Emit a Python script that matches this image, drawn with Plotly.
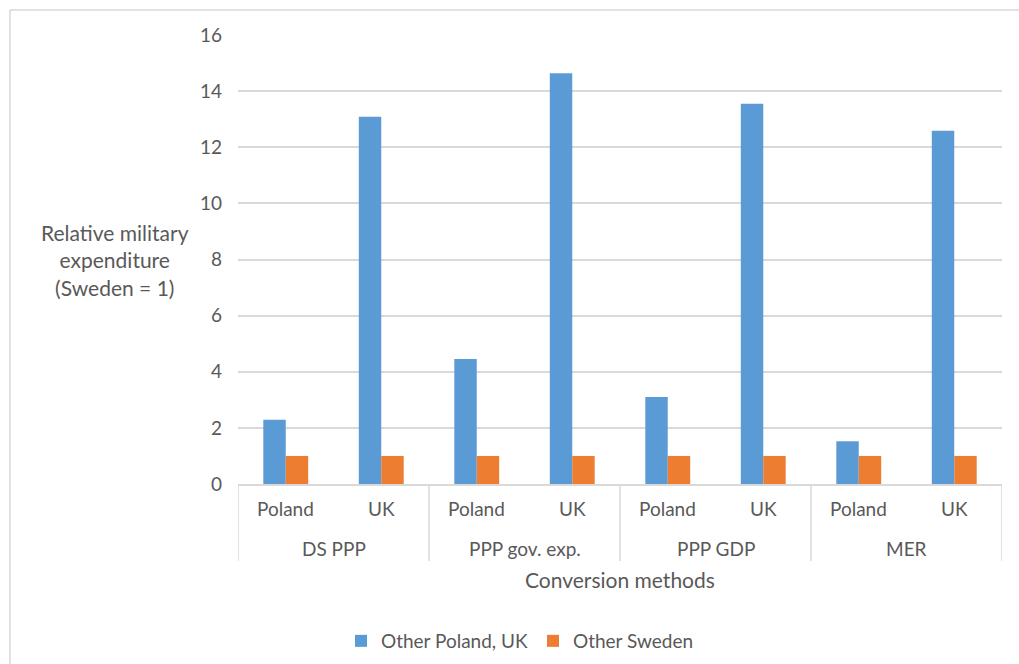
import plotly.graph_objects as go

# Chart data
methods = ["DS PPP", "PPP gov. exp.", "PPP GDP", "MER"]
countries = ["Poland", "UK"]
other_poland_uk = [2.29, 13.09, 4.45, 14.64, 3.10, 13.55, 1.52, 12.59]
other_sweden = [1, 1, 1, 1, 1, 1, 1, 1]
y_ticks = [0, 2, 4, 6, 8, 10, 12, 14, 16]

# one category key per (method, country) pair
keys = [f"{m}|{c}" for m in methods for c in countries]

FONT = "Lato"
TEXT = "#595959"
GRID = "#D9D9D9"

W, H = 1019, 664
L, R, T, B = 238, 17, 35, 180
pw, ph = W - L - R, H - T - B


def px_x(px):
    return (px - L) / pw


def px_y(py):
    return (H - B - py) / ph


fig = go.Figure()
fig.add_trace(go.Bar(
    x=keys, y=other_poland_uk, name="Other Poland, UK",
    marker=dict(color="#5B9BD5", line=dict(width=0)),
))
fig.add_trace(go.Bar(
    x=keys, y=other_sweden, name="Other Sweden",
    marker=dict(color="#ED7D31", line=dict(width=0)),
))

annotations = []
shapes = []

# inner row: country labels
for k in keys:
    annotations.append(dict(
        text=k.split("|")[1], xref="x", yref="paper", x=k, y=px_y(508),
        xanchor="center", yanchor="middle", showarrow=False,
        font=dict(family=FONT, size=19, color=TEXT),
    ))

# outer row: method labels, dividers on group edges
n = len(countries)
for gi, m in enumerate(methods):
    annotations.append(dict(
        text=m, xref="x", yref="paper", x=gi * n + (n - 1) / 2, y=px_y(548),
        xanchor="center", yanchor="middle", showarrow=False,
        font=dict(family=FONT, size=19, color=TEXT),
    ))
for gi in range(len(methods) + 1):
    xe = gi * n - 0.5
    shapes.append(dict(
        type="line", xref="x", yref="paper", x0=xe, x1=xe,
        y0=0, y1=px_y(561), line=dict(color=GRID, width=1.5),
    ))

# y axis title, written horizontally
annotations.append(dict(
    text="Relative military<br>expenditure<br>(Sweden = 1)",
    xref="paper", yref="paper", x=px_x(115), y=px_y(260),
    xanchor="center", yanchor="middle", showarrow=False,
    font=dict(family=FONT, size=21, color=TEXT), align="center",
))
# x axis title
annotations.append(dict(
    text="Conversion methods", xref="paper", yref="paper", x=0.5, y=px_y(579),
    xanchor="center", yanchor="middle", showarrow=False,
    font=dict(family=FONT, size=21, color=TEXT),
))

# chart frame (top and left edges)
shapes += [
    dict(type="line", xref="paper", yref="paper", x0=px_x(10), x1=px_x(W + 5),
         y0=px_y(10), y1=px_y(10), line=dict(color=GRID, width=1.5)),
    dict(type="line", xref="paper", yref="paper", x0=px_x(10), x1=px_x(10),
         y0=px_y(10), y1=px_y(H + 5), line=dict(color=GRID, width=1.5)),
]

fig.update_layout(
    width=W, height=H,
    margin=dict(l=L, r=R, t=T, b=B, pad=0, autoexpand=False),
    paper_bgcolor="white", plot_bgcolor="white",
    font=dict(family=FONT, size=19, color=TEXT),
    barmode="group", bargap=0.53, bargroupgap=0,
    showlegend=True,
    legend=dict(
        orientation="h", xanchor="center", yanchor="middle",
        x=px_x(520), y=px_y(641),
        font=dict(family=FONT, size=19, color=TEXT),
        bgcolor="rgba(0,0,0,0)",
    ),
    xaxis=dict(
        type="category", categoryorder="array", categoryarray=keys,
        range=[-0.5, len(keys) - 0.5],
        showgrid=False, showline=True, linecolor=GRID, linewidth=1.5,
        ticks="", showticklabels=False, automargin=False,
    ),
    yaxis=dict(
        range=[0, 16], tickvals=y_ticks, ticktext=[str(v) for v in y_ticks],
        showgrid=True, gridcolor=GRID, gridwidth=1.5,
        zeroline=False, showline=False, ticks="",
        ticklabelstandoff=15, automargin=False,
        tickfont=dict(family=FONT, size=19, color=TEXT),
    ),
    annotations=annotations,
    shapes=shapes,
)

fig.write_html("out.html")
